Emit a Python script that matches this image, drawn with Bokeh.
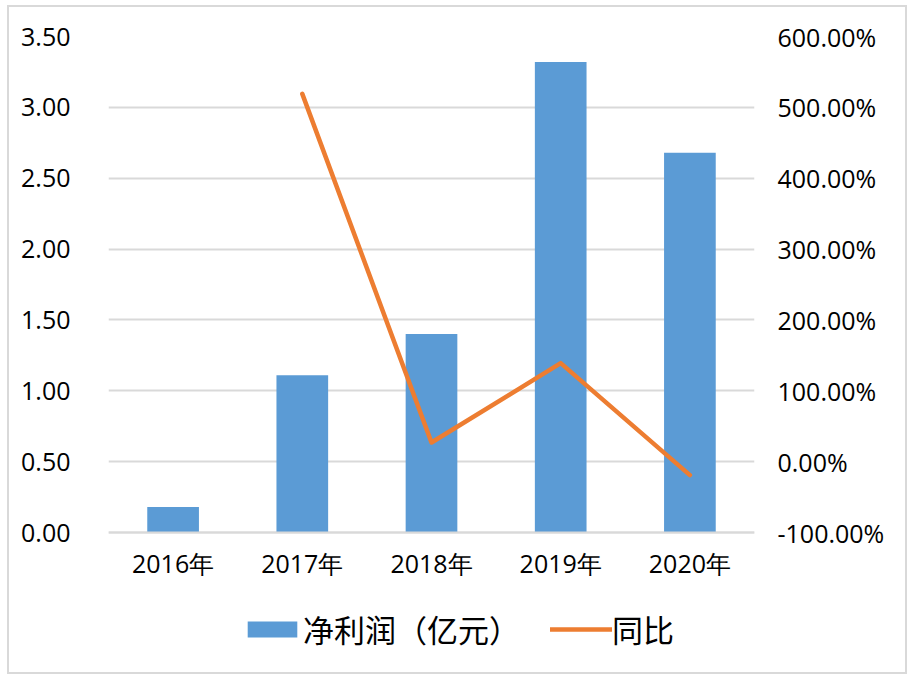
from bokeh.plotting import figure
from bokeh.models import (ColumnDataSource, Range1d, LinearAxis, NumeralTickFormatter,
                          FixedTicker, Legend, LegendItem, FactorRange)
from bokeh.embed import file_html
from bokeh.resources import INLINE

years = ["2016年", "2017年", "2018年", "2019年", "2020年"]
profit = [0.18, 1.11, 1.40, 3.32, 2.68]          # 净利润（亿元）
yoy_years = ["2017年", "2018年", "2019年", "2020年"]
yoy = [5.19, 0.27, 1.39, -0.19]                  # 同比 (fraction)
left_ticks = [0, 0.5, 1.0, 1.5, 2.0, 2.5, 3.0, 3.5]
right_ticks = [-1, 0, 1, 2, 3, 4, 5, 6]

BLUE = "#5B9BD5"
ORANGE = "#ED7D31"
GRID = "#d9d9d9"
TICK_FONT = "Open Sans"
CJK_FONT = "Noto Sans CJK SC"

# frame extends below zero to hold the category labels and the legend
EXT = 1.016
p = figure(width=900, height=669, x_range=FactorRange(*years, range_padding=0),
           y_range=Range1d(-EXT, 3.5), output_backend="svg", toolbar_location=None,
           min_border_left=99, min_border_right=155, min_border_top=29,
           min_border_bottom=0)
p.styles = {"border": "2px solid #d9d9d9", "margin-left": "7px", "margin-top": "5px"}
p.outline_line_color = None
p.background_fill_color = "white"
p.border_fill_color = "white"

p.extra_y_ranges = {"pct": Range1d(-1 - 2 * EXT, 6)}

src = ColumnDataSource(dict(x=years, y=profit))
bars = p.vbar(x="x", top="y", width=0.4, source=src, color=BLUE, line_color=None)
lsrc = ColumnDataSource(dict(x=yoy_years, y=yoy))
line = p.line(x="x", y="y", source=lsrc, y_range_name="pct", line_color=ORANGE,
              line_width=4.5, line_join="round", line_cap="round")

# left axis
ya = p.yaxis[0]
ya.ticker = FixedTicker(ticks=left_ticks)
ya.formatter = NumeralTickFormatter(format="0.00")
ya.axis_line_color = None
ya.major_tick_line_color = None
ya.minor_tick_line_color = None
ya.major_label_standoff = 32
ya.major_label_text_font = TICK_FONT
ya.major_label_text_font_size = "25px"
ya.major_label_text_color = "black"

# right axis
ra = LinearAxis(y_range_name="pct", ticker=FixedTicker(ticks=right_ticks),
                formatter=NumeralTickFormatter(format="0.00%"))
ra.axis_line_color = None
ra.major_tick_line_color = None
ra.minor_tick_line_color = None
ra.major_label_standoff = 17
ra.major_label_text_font = TICK_FONT
ra.major_label_text_font_size = "25px"
ra.major_label_text_color = "black"
p.add_layout(ra, "right")

# x axis, drawn at value 0
xa = p.xaxis[0]
xa.fixed_location = 0
xa.axis_line_color = GRID
xa.axis_line_width = 2
xa.major_tick_line_color = None
xa.minor_tick_line_color = None
xa.major_label_standoff = 7
xa.major_label_text_font = TICK_FONT
xa.major_label_text_font_size = "25px"
xa.major_label_text_color = "black"

p.xgrid.grid_line_color = None
p.ygrid.ticker = FixedTicker(ticks=left_ticks)
p.ygrid.grid_line_color = GRID
p.ygrid.grid_line_width = 2

legend = Legend(items=[LegendItem(label="净利润（亿元）", renderers=[bars]),
                       LegendItem(label="同比", renderers=[line])],
                orientation="horizontal", location=(133, 25),
                label_text_font=CJK_FONT, label_text_font_size="31px",
                label_text_color="black", glyph_width=62, glyph_height=20,
                spacing=30, padding=0, margin=0, border_line_color=None,
                background_fill_alpha=0, label_standoff=0)
p.add_layout(legend, "center")

open("out.html", "w").write(file_html(p, INLINE))
